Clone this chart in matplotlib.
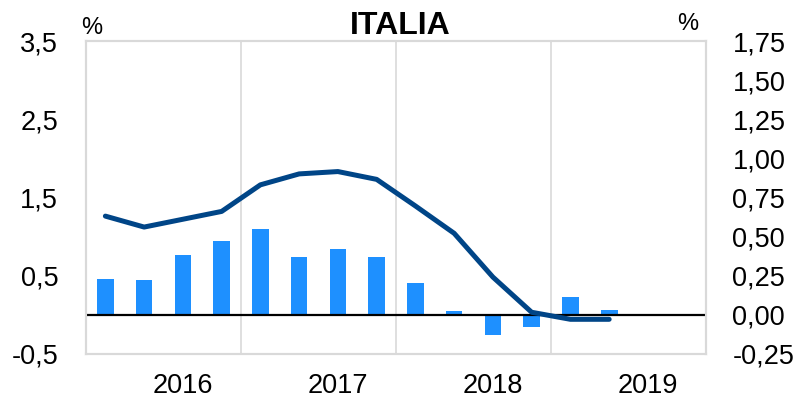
import matplotlib
matplotlib.use("Agg")
import matplotlib.pyplot as plt
from matplotlib.ticker import FixedLocator

plt.rcParams['font.family'] = ['Liberation Sans', 'DejaVu Sans']

# quarterly data 2016Q1 - 2019Q2
trimestri = ["2016T1", "2016T2", "2016T3", "2016T4",
             "2017T1", "2017T2", "2017T3", "2017T4",
             "2018T1", "2018T2", "2018T3", "2018T4",
             "2019T1", "2019T2"]
# congiunturale (bars, right axis)
pil_qoq = [0.23, 0.22, 0.38, 0.47, 0.545, 0.37, 0.42, 0.37,
           0.20, 0.025, -0.13, -0.08, 0.115, 0.03]
# tendenziale (line, left axis)
pil_yoy = [1.26, 1.12, 1.22, 1.32, 1.66, 1.80, 1.83, 1.73,
           1.39, 1.04, 0.48, 0.03, -0.06, -0.06]
anni = ["2016", "2017", "2018", "2019"]

tick_sx = [-0.5, 0.5, 1.5, 2.5, 3.5]
tick_dx = [-0.25, 0.0, 0.25, 0.5, 0.75, 1.0, 1.25, 1.5, 1.75]

grigio = "#d9d9d9"
blu_barre = "#1e90ff"
blu_linea = "#004587"

fig = plt.figure(figsize=(8.06, 4.04), dpi=100)
ax = fig.add_axes([0.1067, 0.1245, 0.7693, 0.774])
ax2 = ax.twinx()

x = list(range(len(trimestri)))

# bars on the right axis
ax2.bar(x, pil_qoq, width=0.43, color=blu_barre, zorder=3)
ax2.axhline(0, color="black", lw=1.6, zorder=4)
for b in [3.5, 7.5, 11.5]:
    ax2.axvline(b, color=grigio, lw=1.2, zorder=0)
ax2.set_ylim(-0.25, 1.75)
ax2.set_yticks(tick_dx)
ax2.set_yticklabels([f"{v:.2f}".replace(".", ",") for v in tick_dx])
ax2.yaxis.set_minor_locator(FixedLocator([0.25, 0.75, 1.25]))
ax2.grid(which="minor", axis="y", color=grigio, lw=1.2, zorder=0)
ax2.tick_params(axis="y", which="both", length=0, pad=19, labelsize=19.5)

# line on the left axis, drawn on top
ax.set_zorder(ax2.get_zorder() + 1)
ax.patch.set_visible(False)
ax.plot(x, pil_yoy, color=blu_linea, lw=3.6, solid_capstyle="round",
        solid_joinstyle="round", zorder=5)
ax.set_ylim(-0.5, 3.5)
ax.set_yticks(tick_sx)
ax.set_yticklabels([f"{v:.1f}".replace(".", ",") for v in tick_sx])
ax.set_xlim(-0.5, 15.5)
ax.set_xticks([2, 6, 10, 14])
ax.set_xticklabels(anni)
ax.tick_params(axis="y", length=0, pad=20, labelsize=19.5)
ax.tick_params(axis="x", length=0, pad=14, labelsize=19.5)

for a in (ax, ax2):
    for s in a.spines.values():
        s.set_color(grigio)
        s.set_linewidth(1.5)

fig.text(0.497, 0.935, "ITALIA", ha="center", va="center",
         fontsize=23, fontweight="bold")
fig.text(0.114, 0.93, "%", ha="center", va="center", fontsize=17)
fig.text(0.853, 0.94, "%", ha="center", va="center", fontsize=17)

fig.savefig("out.png", dpi=100)
